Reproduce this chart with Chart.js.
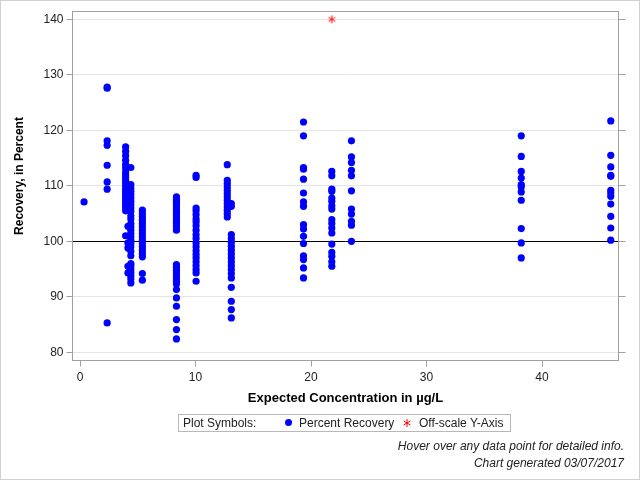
<!DOCTYPE html>
<html>
<head>
<meta charset="utf-8">
<script src="https://cdn.jsdelivr.net/npm/chart.js@4.4.0/dist/chart.umd.min.js"></script>
<style>
  html, body { margin: 0; padding: 0; background: #fff; }
  #wrap { position: relative; width: 640px; height: 480px; overflow: hidden;
          font-family: "Liberation Sans", Arial, sans-serif; color: #000; }
  #chart { position: absolute; left: 0; top: 0; }
  #border { position: absolute; left: 0; top: 0; width: 640px; height: 480px;
            box-sizing: border-box; border: 1px solid #d0d0d0; pointer-events: none; }
  #ytitle { position: absolute; left: -81px; top: 169px; width: 200px; height: 14px;
            line-height: 14px; text-align: center; font-weight: bold; font-size: 12px;
            transform: rotate(-90deg); white-space: nowrap; }
  #legend { position: absolute; left: 178px; top: 414px; width: 333px; height: 18px;
            box-sizing: border-box; border: 1px solid #b8b8b8; font-size: 12px; color: #222; }
  #legend span { position: absolute; top: 1px; line-height: 15px; white-space: nowrap; }
  #legend .dot { top: 4px; width: 7px; height: 7px; border-radius: 50%; background: #0000ff; }
  #legend .sym { top: 3px; line-height: 0; }
  .foot { position: absolute; right: 16px; font-size: 12px; font-style: italic; color: #222;
          line-height: 14px; white-space: nowrap; }
</style>
</head>
<body>
<div id="wrap">
  <canvas id="chart" width="640" height="480"></canvas>
  <div id="ytitle">Recovery, in Percent</div>
  <div id="legend">
    <span style="left:4px">Plot Symbols:</span>
    <span class="dot" style="left:106px"></span>
    <span style="left:120px">Percent Recovery</span>
    <span class="sym" id="legendStar" style="left:223px"></span>
    <span style="left:240px">Off-scale Y-Axis</span>
  </div>
  <div class="foot" style="top:439px">Hover over any data point for detailed info.</div>
  <div class="foot" style="top:456px">Chart generated 03/07/2017</div>
  <div id="border"></div>
</div>
<script>
  // expected concentration levels (µg/L) and the recoveries measured at each
  var concLevels = [0.35, 2.35, 3.95, 4.15, 4.4, 5.4, 8.35, 10.05, 12.75, 13.1, 19.35, 21.8, 23.5, 38.2, 45.95];
  var recoveryByLevel = [
    [107.1],
    [127.8, 127.6, 118.1, 117.3, 113.7, 110.7, 109.4, 85.3],
    [117.0, 116.2, 115.4, 114.6, 113.8, 113.2, 112.5, 112.0, 111.5, 111.0, 110.5, 110.0, 109.5,
     109.0, 108.5, 108.0, 107.5, 107.0, 106.5, 106.0, 105.5, 101.0],
    [102.7, 99.7, 98.8, 95.5, 94.3],
    [113.3, 110.2, 109.6, 109.0, 108.4, 107.8, 107.2, 106.6, 106.0, 105.4, 104.6, 104.0, 103.2,
     102.6, 102.0, 101.4, 100.8, 100.2, 99.6, 99.0, 98.2, 97.4, 96.0, 95.6, 95.0, 94.4, 93.8, 93.2, 92.5],
    [105.6, 105.0, 104.4, 103.8, 103.2, 102.6, 102.0, 101.4, 100.8, 100.2, 99.6, 99.0, 98.4, 97.8,
     97.2, 94.2, 93.0],
    [108.0, 107.6, 107.2, 106.8, 106.4, 106.0, 105.6, 105.2, 104.8, 104.4, 104.0, 103.6, 103.2,
     102.8, 102.4, 102.0, 95.8, 95.3, 94.8, 94.3, 93.8, 93.3, 92.8, 92.3, 91.3, 89.8, 88.3, 85.9, 84.1, 82.4],
    [111.9, 111.5, 106.0, 105.5, 104.8, 104.0, 103.5, 102.8, 102.0, 101.2, 100.5, 99.7, 99.0, 98.3,
     97.6, 97.0, 96.3, 95.6, 94.9, 94.3, 92.8],
    [113.8, 111.0, 110.4, 109.8, 109.2, 108.6, 108.0, 107.4, 106.8, 106.2, 105.6, 105.0, 104.4],
    [106.8, 106.3, 101.2, 100.5, 99.8, 99.1, 98.4, 97.7, 97.0, 96.3, 95.6, 94.9, 94.2, 93.4, 91.7,
     89.2, 87.7, 86.2],
    [121.5, 119.0, 113.3, 113.0, 111.2, 108.7, 107.1, 106.3, 103.0, 102.2, 100.9, 99.6, 97.4, 96.7, 95.2, 93.4],
    [112.6, 111.8, 109.4, 109.0, 107.8, 107.2, 106.4, 105.8, 103.9, 103.2, 102.4, 101.5, 99.5, 98.0,
     97.3, 96.3, 95.5],
    [118.1, 115.2, 114.2, 112.8, 111.8, 109.1, 105.8, 104.9, 103.6, 102.9, 100.0],
    [119.0, 115.3, 112.6, 111.4, 110.2, 109.8, 108.9, 107.4, 102.3, 99.7, 97.0],
    [121.7, 115.5, 113.4, 111.9, 111.7, 109.2, 108.7, 108.1, 106.7, 104.5, 102.4, 100.2]
  ];
  // value above the y-axis, drawn at the top of the scale
  var offscaleConc = [21.8];
  var offscaleShown = [140];

  var referenceLevel = 100;
  var xTicks = [0, 10, 20, 30, 40];
  var yTicks = [80, 90, 100, 110, 120, 130, 140];
  var xMin = -0.65, xMax = 46.62;
  var yMin = 78.52, yMax = 141.41;

  var FONT = '"Liberation Sans", Arial, sans-serif';
  var FRAME = '#a0a0a0';

  var recoveryPoints = [];
  concLevels.forEach(function (c, i) {
    recoveryByLevel[i].forEach(function (r) { recoveryPoints.push({x: c, y: r}); });
  });
  var offscalePoints = offscaleConc.map(function (c, i) { return {x: c, y: offscaleShown[i]}; });

  function makeStar(color, r) {
    var c = document.createElement('canvas');
    var s = Math.ceil(r * 2 + 2);
    c.width = c.height = s;
    var g = c.getContext('2d');
    g.strokeStyle = color;
    g.lineWidth = 1;
    g.translate(s / 2, s / 2);
    for (var k = 0; k < 3; k++) {
      var a = Math.PI / 2 + k * Math.PI / 3;
      g.beginPath();
      g.moveTo(Math.cos(a) * r, Math.sin(a) * r);
      g.lineTo(-Math.cos(a) * r, -Math.sin(a) * r);
      g.stroke();
    }
    return c;
  }
  var star = makeStar('#ff0000', 4);
  document.getElementById('legendStar').appendChild(makeStar('#ff0000', 4));

  function setTicks(list) {
    return function (scale) { scale.ticks = list.map(function (v) { return {value: v}; }); };
  }

  // frame round the plot and the 100 % line
  var framePlugin = {
    id: 'frame',
    beforeDatasetsDraw: function (chart) {
      var a = chart.chartArea, ctx = chart.ctx;
      var y = Math.round(chart.scales.y.getPixelForValue(referenceLevel)) + 0.5;
      ctx.save();
      ctx.strokeStyle = '#000';
      ctx.lineWidth = 1;
      ctx.beginPath();
      ctx.moveTo(a.left, y);
      ctx.lineTo(a.right, y);
      ctx.stroke();
      ctx.strokeStyle = FRAME;
      ctx.strokeRect(a.left, a.top, a.right - a.left, a.bottom - a.top);
      ctx.restore();
    }
  };

  new Chart(document.getElementById('chart').getContext('2d'), {
    type: 'scatter',
    data: {
      datasets: [
        {label: 'Percent Recovery', data: recoveryPoints, pointRadius: 3.6,
         backgroundColor: '#0000ff', borderWidth: 0, pointHoverRadius: 3.6},
        {label: 'Off-scale Y-Axis', data: offscalePoints, pointStyle: star, pointRadius: 4}
      ]
    },
    options: {
      responsive: false,
      animation: false,
      devicePixelRatio: 1,
      events: [],
      layout: {padding: {left: 0, top: 11.5, right: 14.5, bottom: 69.5}},
      plugins: {legend: {display: false}, tooltip: {enabled: false}},
      scales: {
        x: {
          type: 'linear', min: xMin, max: xMax,
          afterBuildTicks: setTicks(xTicks),
          afterFit: function (s) { s.height = 50; },
          grid: {drawOnChartArea: false, drawTicks: true, tickLength: 6, tickColor: FRAME},
          border: {display: false},
          ticks: {color: '#222', padding: 4, maxRotation: 0, font: {family: FONT, size: 12}},
          title: {display: true, text: 'Expected Concentration in µg/L', color: '#000',
                  font: {family: FONT, size: 13, weight: 'bold'}, padding: {top: 0, bottom: 4}}
        },
        y: {
          type: 'linear', min: yMin, max: yMax,
          afterBuildTicks: setTicks(yTicks),
          afterFit: function (s) { s.width = 72.5; },
          grid: {color: '#e4e4e4', drawTicks: true, tickLength: 6, tickColor: FRAME},
          border: {display: false},
          ticks: {color: '#222', padding: 3, font: {family: FONT, size: 12}}
        },
        yR: {
          type: 'linear', position: 'right', min: yMin, max: yMax,
          afterBuildTicks: setTicks(yTicks),
          afterFit: function (s) { s.width = 7; },
          grid: {drawOnChartArea: false, drawTicks: true, tickLength: 7, tickColor: FRAME},
          border: {display: false},
          ticks: {display: false}
        }
      }
    },
    plugins: [framePlugin]
  });
</script>
</body>
</html>
